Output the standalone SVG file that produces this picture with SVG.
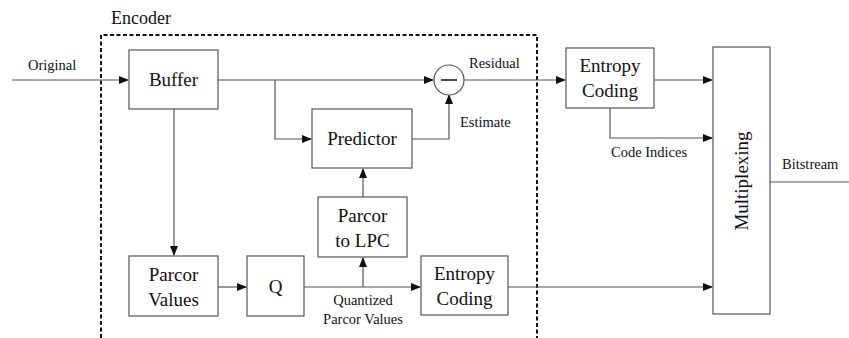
<svg xmlns="http://www.w3.org/2000/svg" width="849" height="338" viewBox="0 0 849 338">
<defs>
<marker id="arr" markerWidth="10" markerHeight="8" refX="9" refY="4" orient="auto" markerUnits="userSpaceOnUse">
<path d="M0,0 L10,4 L0,8 Z" fill="#111"/>
</marker>
<style>
.box{fill:#fff;stroke:#555;stroke-width:1.2}
.ln{fill:none;stroke:#555;stroke-width:1.2}
text{font-family:'Liberation Serif','DejaVu Serif','Times New Roman',serif;fill:#111}
.t{font-size:19px;text-anchor:middle}
.s{font-size:14.5px}
</style>
</defs>
<rect width="849" height="338" fill="#fff"/>
<g id="encoder">
<path d="M101,338 L101,35 L537,35 L537,338" fill="none" stroke="#111" stroke-width="2" stroke-dasharray="4,2.5"/>
<text x="111" y="24" font-size="18">Encoder</text>
</g>
<g id="connectors">
<path class="ln" d="M12,80 L128,80" marker-end="url(#arr)"/>
<path class="ln" d="M218,80 L433,80" marker-end="url(#arr)"/>
<path class="ln" d="M275,80 L275,139 L311,139" marker-end="url(#arr)"/>
<path class="ln" d="M412,139 L449,139 L449,95" marker-end="url(#arr)"/>
<path class="ln" d="M464,80 L565,80" marker-end="url(#arr)"/>
<path class="ln" d="M654,80 L712,80" marker-end="url(#arr)"/>
<path class="ln" d="M610,108 L610,138 L712,138" marker-end="url(#arr)"/>
<path class="ln" d="M770,182 L849,182"/>
<path class="ln" d="M174,109 L174,255" marker-end="url(#arr)"/>
<path class="ln" d="M218,287 L246,287" marker-end="url(#arr)"/>
<path class="ln" d="M304,287 L420,287" marker-end="url(#arr)"/>
<path class="ln" d="M363,287 L363,258" marker-end="url(#arr)"/>
<path class="ln" d="M363,197 L363,169" marker-end="url(#arr)"/>
<path class="ln" d="M508,287 L712,287" marker-end="url(#arr)"/>
<text class="s" x="28" y="70">Original</text>
<text class="s" x="469" y="68">Residual</text>
<text class="s" x="460" y="127">Estimate</text>
<text class="s" x="611" y="157">Code Indices</text>
<text class="s" x="782" y="169">Bitstream</text>
<text class="s" x="363" y="305" text-anchor="middle">Quantized</text>
<text class="s" x="363" y="324" text-anchor="middle">Parcor Values</text>
</g>
<g id="buffer"><rect class="box" x="129" y="50" width="89" height="59"/><text class="t" x="173.5" y="86">Buffer</text></g>
<g id="subtract"><circle cx="449" cy="80" r="15" fill="#fff" stroke="#555" stroke-width="1.2"/><line x1="441" y1="80" x2="457" y2="80" stroke="#111" stroke-width="1.5"/></g>
<g id="predictor"><rect class="box" x="312" y="109" width="100" height="59"/><text class="t" x="362" y="145">Predictor</text></g>
<g id="parcor-to-lpc"><rect class="box" x="318" y="197" width="89" height="60"/><text class="t" x="362.5" y="222">Parcor</text><text class="t" x="362.5" y="247">to LPC</text></g>
<g id="parcor-values"><rect class="box" x="129" y="256" width="89" height="60"/><text class="t" x="173.5" y="281">Parcor</text><text class="t" x="173.5" y="306">Values</text></g>
<g id="q"><rect class="box" x="247" y="256" width="57" height="60"/><text class="t" x="275.5" y="293">Q</text></g>
<g id="entropy-coding-2"><rect class="box" x="421" y="256" width="87" height="59"/><text class="t" x="464.5" y="280">Entropy</text><text class="t" x="464.5" y="305">Coding</text></g>
<g id="entropy-coding-1"><rect class="box" x="566" y="48" width="88" height="60"/><text class="t" x="610" y="72">Entropy</text><text class="t" x="610" y="97">Coding</text></g>
<g id="multiplexing"><rect class="box" x="713" y="47" width="57" height="267"/><text class="t" x="0" y="0" transform="translate(748,181) rotate(-90)">Multiplexing</text></g>
</svg>
